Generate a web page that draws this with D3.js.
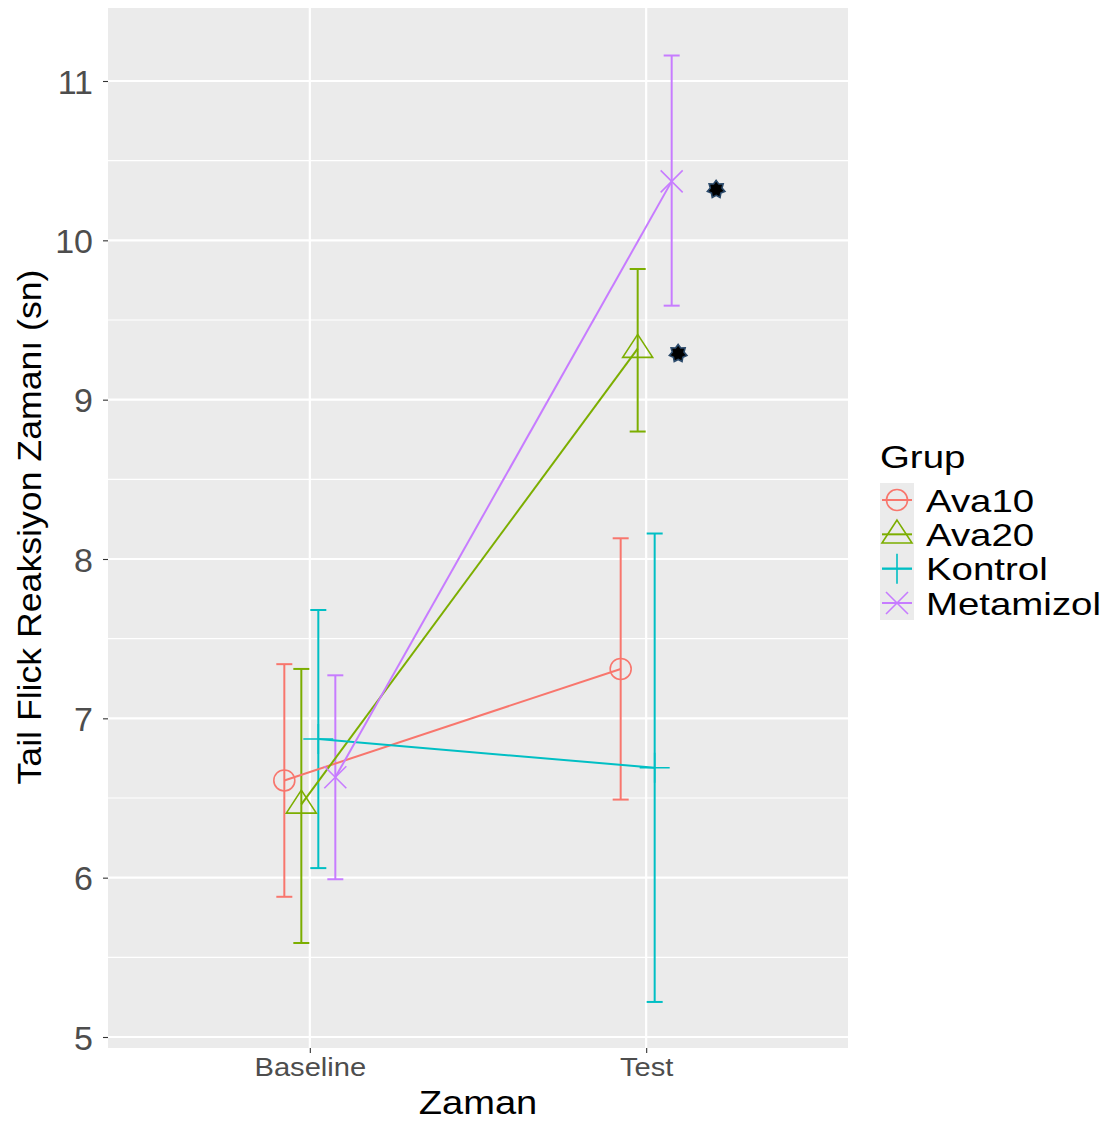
<!DOCTYPE html>
<html>
<head>
<meta charset="utf-8">
<script src="https://cdn.jsdelivr.net/npm/d3@7"></script>
<style>
  body { margin: 0; background: #fff; }
  text { font-family: "Liberation Sans", Arial, sans-serif; }
</style>
</head>
<body>
<svg id="chart" width="1110" height="1122"></svg>
<script>
// data
var groups = ["Ava10", "Ava20", "Kontrol", "Metamizol"];
var times = ["Baseline", "Test"];
var meanBaseline = [6.61, 6.46, 6.87, 6.63];
var meanTest     = [7.31, 9.32, 6.69, 10.37];
var lowBaseline  = [5.88, 5.59, 6.06, 5.99];
var highBaseline = [7.34, 7.31, 7.68, 7.27];
var lowTest      = [6.49, 8.80, 5.22, 9.59];
var highTest     = [8.13, 9.82, 8.16, 11.16];
var yTicks = [5, 6, 7, 8, 9, 10, 11];
// significance stars (x in discrete-axis units, Test = 2)
var starX = [2.208, 2.095];
var starY = [10.32, 9.29];

var colors = ["#F8766D", "#7CAE00", "#00BFC4", "#C77CFF"];

// layout
var panel = {left: 108, right: 848, top: 8, bottom: 1048};

var svg = d3.select("#chart");

//	the reference text is a little wider than Liberation Sans, so stretch it
function stretch(sel, k) {
	sel.each(function() {
		var w = this.getComputedTextLength();
		d3.select(this).attr("textLength", w * k).attr("lengthAdjust", "spacingAndGlyphs");
	});
}

var x = d3.scalePoint().domain(times).range([panel.left, panel.right]).padding(0.6);
var xNum = d3.scaleLinear().domain([0.4, 2.6]).range([panel.left, panel.right]);
var dodge = d3.scalePoint().domain(groups).range([-25.5, 25.5]);
var y = d3.scaleLinear().domain([5, 11]).range([1037, 81]);
var color = d3.scaleOrdinal().domain(groups).range(colors);

// panel background
svg.append("rect")
	.attr("x", panel.left).attr("y", panel.top)
	.attr("width", panel.right - panel.left)
	.attr("height", panel.bottom - panel.top)
	.attr("fill", "#EBEBEB");

// minor grid
var minor = d3.range(4.5, 11.6, 1).filter(function(v) { return y(v) > panel.top && y(v) < panel.bottom; });
svg.selectAll(".minor").data(minor).enter().append("line")
	.attr("x1", panel.left).attr("x2", panel.right)
	.attr("y1", function(d) { return y(d); }).attr("y2", function(d) { return y(d); })
	.attr("stroke", "#fff").attr("stroke-width", 1.1);

// major grid
svg.selectAll(".major").data(yTicks).enter().append("line")
	.attr("x1", panel.left).attr("x2", panel.right)
	.attr("y1", function(d) { return y(d); }).attr("y2", function(d) { return y(d); })
	.attr("stroke", "#fff").attr("stroke-width", 2.2);
svg.selectAll(".vmajor").data(times).enter().append("line")
	.attr("x1", function(d) { return x(d); }).attr("x2", function(d) { return x(d); })
	.attr("y1", panel.top).attr("y2", panel.bottom)
	.attr("stroke", "#fff").attr("stroke-width", 2.2);

// axes
var yAxis = d3.axisLeft(y).tickValues(yTicks).tickSize(5).tickPadding(10).tickFormat(d3.format("d"));
var gy = svg.append("g").attr("transform", "translate(" + panel.left + ",0)").call(yAxis);
gy.select(".domain").remove();
gy.selectAll(".tick line").attr("stroke", "#333").attr("stroke-width", 1.1);
gy.selectAll(".tick text").attr("fill", "#4D4D4D").style("font-size", "34px").attr("dy", "0.36em");

var xAxis = d3.axisBottom(x).tickSize(5).tickPadding(5);
var gx = svg.append("g").attr("transform", "translate(0," + panel.bottom + ")").call(xAxis);
gx.select(".domain").remove();
gx.selectAll(".tick line").attr("stroke", "#333").attr("stroke-width", 1.1);
gx.selectAll(".tick text").attr("fill", "#4D4D4D").style("font-size", "26px");
stretch(gx.selectAll(".tick text"), 1.12);

// axis titles
svg.append("text")
	.attr("x", (panel.left + panel.right) / 2).attr("y", 1114)
	.attr("text-anchor", "middle").style("font-size", "34px").attr("fill", "#000")
	.text("Zaman")
	.call(stretch, 1.12);
svg.append("text")
	.attr("transform", "translate(41," + ((panel.top + panel.bottom) / 2 - 1) + ") rotate(-90)")
	.attr("text-anchor", "middle").style("font-size", "33px").attr("fill", "#000")
	.text("Tail Flick Reaksiyon Zamanı (sn)")
	.call(stretch, 1.08);

// build records
var recs = [];
groups.forEach(function(g, i) {
	recs.push({g: g, t: "Baseline", m: meanBaseline[i], lo: lowBaseline[i], hi: highBaseline[i]});
	recs.push({g: g, t: "Test", m: meanTest[i], lo: lowTest[i], hi: highTest[i]});
});
function px(d) { return x(d.t) + dodge(d.g); }

// error bars
var eb = svg.append("g");
var cap = 8;
recs.forEach(function(d) {
	var c = color(d.g), cx = px(d);
	eb.append("line").attr("x1", cx).attr("x2", cx).attr("y1", y(d.lo)).attr("y2", y(d.hi))
		.attr("stroke", c).attr("stroke-width", 2);
	[d.lo, d.hi].forEach(function(v) {
		eb.append("line").attr("x1", cx - cap).attr("x2", cx + cap).attr("y1", y(v)).attr("y2", y(v))
			.attr("stroke", c).attr("stroke-width", 2);
	});
});

// lines
var line = d3.line().x(px).y(function(d) { return y(d.m); });
groups.forEach(function(g) {
	svg.append("path")
		.datum(recs.filter(function(r) { return r.g === g; }))
		.attr("d", line).attr("fill", "none")
		.attr("stroke", color(g)).attr("stroke-width", 2);
});

// point shapes
function shape(sel, g, s) {
	var c = color(g);
	if (g === "Ava10") {
		sel.append("circle").attr("r", 10.5*s).attr("fill", "none").attr("stroke", c).attr("stroke-width", 1.6);
	} else if (g === "Ava20") {
		var h = 23*s, w = 15*s;
		sel.append("path").attr("d", "M0," + (-h*0.62) + "L" + w + "," + (h*0.38) + "L" + (-w) + "," + (h*0.38) + "Z")
			.attr("fill", "none").attr("stroke", c).attr("stroke-width", 1.6);
	} else if (g === "Kontrol") {
		var r = 15*s;
		sel.append("path").attr("d", "M" + (-r) + ",0H" + r + "M0," + (-r) + "V" + r)
			.attr("fill", "none").attr("stroke", c).attr("stroke-width", 1.6);
	} else {
		var a = 11*s;
		sel.append("path").attr("d", "M" + (-a) + "," + (-a) + "L" + a + "," + a + "M" + (-a) + "," + a + "L" + a + "," + (-a))
			.attr("fill", "none").attr("stroke", c).attr("stroke-width", 1.6);
	}
}
recs.forEach(function(d) {
	var g = svg.append("g").attr("transform", "translate(" + px(d) + "," + y(d.m) + ")");
	shape(g, d.g, 1);
});

// stars
function starPath(n, ro, ri) {
	var pts = [];
	for (var i = 0; i < 2 * n; i++) {
		var a = Math.PI * i / n - Math.PI / 2;
		var r = i % 2 === 0 ? ro : ri;
		pts.push([r * Math.cos(a), r * Math.sin(a)]);
	}
	return "M" + pts.map(function(p) { return p.join(","); }).join("L") + "Z";
}
starX.forEach(function(sx, i) {
	svg.append("path")
		.attr("transform", "translate(" + xNum(sx) + "," + y(starY[i]) + ")")
		.attr("d", starPath(7, 9, 6))
		.attr("fill", "#000").attr("stroke", "#2B4A6B").attr("stroke-width", 1.6);
});

// legend
var lg = svg.append("g").attr("transform", "translate(880,0)");
lg.append("text").attr("x", 0).attr("y", 468).style("font-size", "32px").attr("fill", "#000").text("Grup")
	.call(stretch, 1.2);
var rowY = d3.scalePoint().domain(groups).range([500, 603]);
lg.append("rect").attr("x", 0).attr("y", 483).attr("width", 34).attr("height", 137).attr("fill", "#EBEBEB");
groups.forEach(function(g) {
	var c = color(g), cy = rowY(g);
	lg.append("line").attr("x1", 2).attr("x2", 32).attr("y1", cy).attr("y2", cy)
		.attr("stroke", c).attr("stroke-width", 2);
	var k = lg.append("g").attr("transform", "translate(17," + cy + ")");
	shape(k, g, 1);
	lg.append("text").attr("x", 46).attr("y", cy).attr("dy", "0.36em")
		.style("font-size", "32px").attr("fill", "#000").text(g)
		.call(stretch, 1.2);
});
</script>
</body>
</html>
